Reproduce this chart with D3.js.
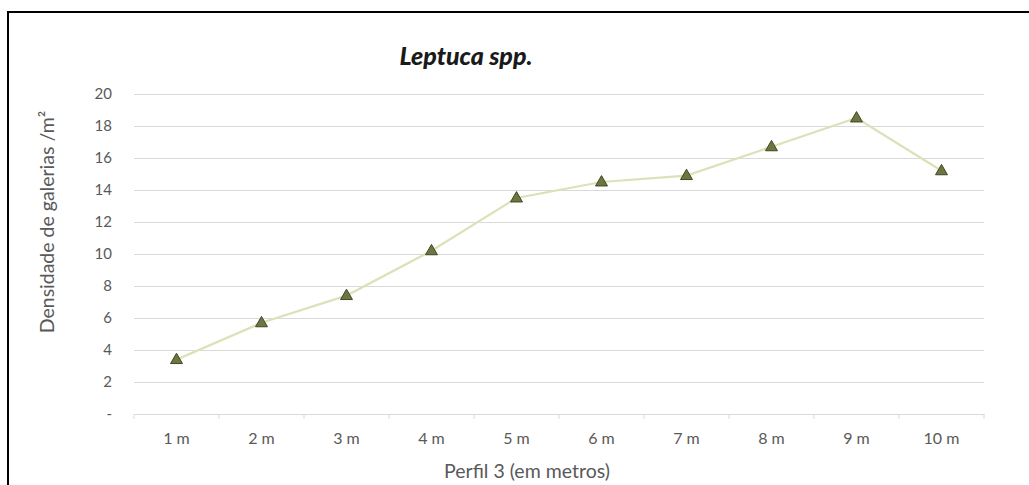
<!DOCTYPE html>
<html>
<head>
<meta charset="utf-8">
<script src="https://cdn.jsdelivr.net/npm/d3@7"></script>
<style>
  html, body { margin: 0; padding: 0; background: #ffffff; }
  svg { display: block; }
  text { font-family: Lato, "Open Sans", sans-serif; }
</style>
</head>
<body>
<svg id="chart" width="1029" height="485"></svg>
<script>
const categories = ["1 m", "2 m", "3 m", "4 m", "5 m", "6 m", "7 m", "8 m", "9 m", "10 m"];
const values = [3.4, 5.7, 7.4, 10.2, 13.5, 14.5, 14.9, 16.7, 18.5, 15.2];
const yTicks = [0, 2, 4, 6, 8, 10, 12, 14, 16, 18, 20];
const yTickLabels = ["-", "2", "4", "6", "8", "10", "12", "14", "16", "18", "20"];
const chartTitle = "Leptuca spp.";
const xTitle = "Perfil 3 (em metros)";
const yTitle = "Densidade de galerias /m²";

const svg = d3.select("#chart");
const plot = { left: 134, right: 984, top: 94, bottom: 414 };

// outer frame
svg.append("rect")
  .attr("x", 8).attr("y", 12).attr("width", 1040).attr("height", 500)
  .attr("fill", "#ffffff").attr("stroke", "#000000").attr("stroke-width", 2);

const x = d3.scaleBand().domain(categories).range([plot.left, plot.right]);
const y = d3.scaleLinear().domain([0, 20]).range([plot.bottom, plot.top]);

// gridlines
const grid = svg.append("g")
  .attr("transform", `translate(${plot.left},0)`)
  .call(d3.axisLeft(y).tickValues(yTicks.filter(d => d > 0)).tickSize(-(plot.right - plot.left)).tickFormat(""));
grid.select(".domain").remove();
grid.selectAll(".tick line").attr("stroke", "#d9d9d9").attr("stroke-width", 1);

// y tick labels
const yAxis = svg.append("g")
  .attr("transform", `translate(${plot.left},0)`)
  .call(d3.axisLeft(y).tickValues(yTicks).tickSize(0).tickPadding(22)
    .tickFormat((d, i) => yTickLabels[i]));
yAxis.select(".domain").remove();
yAxis.selectAll("text").attr("fill", "#595959").attr("font-size", 15).attr("font-family", "Lato, sans-serif");

// x axis
const xAxis = svg.append("g")
  .attr("transform", `translate(0,${plot.bottom})`)
  .call(d3.axisBottom(x).tickSize(0).tickPadding(19));
xAxis.select(".domain").attr("stroke", "#d9d9d9").attr("stroke-width", 1);
xAxis.selectAll("text").attr("fill", "#595959").attr("font-size", 16).attr("font-family", "Lato, sans-serif");

// band boundary ticks
const boundaries = categories.map(c => x(c)).concat([x(categories[categories.length - 1]) + x.bandwidth()]);
svg.append("g").selectAll("line").data(boundaries).join("line")
  .attr("x1", d => d).attr("x2", d => d)
  .attr("y1", plot.bottom).attr("y2", plot.bottom + 5)
  .attr("stroke", "#d9d9d9").attr("stroke-width", 1);

// series line
const data = categories.map((c, i) => ({ c, v: values[i] }));
const line = d3.line().x(d => x(d.c) + x.bandwidth() / 2).y(d => y(d.v));
svg.append("path").datum(data)
  .attr("d", line)
  .attr("fill", "none")
  .attr("stroke", "#dbe2b8")
  .attr("stroke-width", 2.25);

// markers
const tri = d3.symbol().type(d3.symbolTriangle).size(62);
svg.append("g").selectAll("path").data(data).join("path")
  .attr("d", tri)
  .attr("transform", d => `translate(${x(d.c) + x.bandwidth() / 2},${y(d.v) + 0.5})`)
  .attr("fill", "#6b7640")
  .attr("stroke", "#3f4824")
  .attr("stroke-width", 1);

// titles
svg.append("text")
  .attr("x", 466).attr("y", 65)
  .attr("text-anchor", "middle")
  .attr("font-size", 25).attr("font-weight", 900).attr("font-style", "italic")
  .attr("fill", "#1a1a1a")
  .text(chartTitle);

svg.append("text")
  .attr("x", 527).attr("y", 478)
  .attr("text-anchor", "middle")
  .attr("font-size", 19.5)
  .attr("fill", "#595959")
  .text(xTitle);

svg.append("text")
  .attr("transform", "translate(54,222) rotate(-90)")
  .attr("text-anchor", "middle")
  .attr("font-size", 19.5)
  .attr("fill", "#595959")
  .text(yTitle);
</script>
</body>
</html>
